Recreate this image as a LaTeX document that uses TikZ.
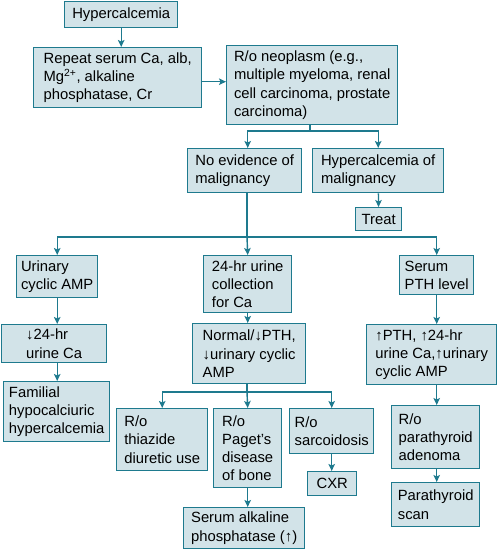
\documentclass[tikz,border=0pt]{standalone}
\usepackage{fontspec}
\setmainfont{Liberation Sans}
\usepackage{xcolor}
\usetikzlibrary{arrows.meta,positioning}
\definecolor{boxfill}{RGB}{210,227,232}
\definecolor{boxedge}{RGB}{30,122,142}

\begin{document}
\begin{tikzpicture}[x=1pt, y=-1pt,
  box/.style={draw=boxedge, fill=boxfill, line width=1.4pt, anchor=north west,
    align=left, inner xsep=3pt, inner ysep=1pt,
    font=\fontsize{14.8}{18.2}\selectfont},
  arr/.style={-{Stealth[length=7pt,width=6.5pt,inset=1.5pt]}, draw=boxedge, line width=1.4pt},
  con/.style={draw=boxedge, line width=1.4pt}]
\useasboundingbox (0,0) rectangle (500,549);

% top part
\node[box, minimum width=113pt, minimum height=26pt] (hyper) at (64,0.7) {Hypercalcemia};
\node[box, minimum width=168pt, minimum height=60pt] (repeat) at (33,47) {Repeat serum Ca, alb,\\Mg\textsuperscript{2+}, alkaline\\phosphatase, Cr};
\node[box, minimum width=171pt, minimum height=79pt] (neo) at (226,45) {R/o neoplasm (e.g.,\\multiple myeloma, renal\\cell carcinoma, prostate\\carcinoma)};
\node[box, minimum width=114pt, minimum height=44pt] (noev) at (187,148) {No evidence of\\malignancy};
\node[box, minimum width=131pt, minimum height=44pt] (hmal) at (312,148) {Hypercalcemia of\\malignancy};
\node[box, minimum width=46pt, minimum height=23pt] (treat) at (355,207) {Treat};

% three work-ups
\node[box, minimum width=81pt, minimum height=42pt] (urin) at (16,255) {Urinary\\cyclic AMP};
\node[box, minimum width=88pt, minimum height=57pt] (coll) at (203,255) {24-hr urine\\collection\\for Ca};
\node[box, minimum width=74pt, minimum height=39pt] (spth) at (399,255) {Serum\\PTH level};

% left column
\node[box, minimum width=105pt, minimum height=38pt] (ldown) at (1,324) {↓24-hr\\urine Ca};
\node[box, minimum width=106pt, minimum height=60pt] (fam) at (3,381) {Familial\\hypocalciuric\\hypercalcemia};

% middle column
\node[box, minimum width=113pt, minimum height=60pt] (norm) at (192,323) {Normal/↓PTH,\\↓urinary cyclic\\AMP};
\node[box, minimum width=91pt, minimum height=62pt] (thia) at (116,408) {R/o\\thiazide\\diuretic use};
\node[box, minimum width=68pt, minimum height=79pt] (paget) at (213,408) {R/o\\Paget’s\\disease\\of bone};
\node[box, minimum width=84pt, minimum height=45pt] (sarc) at (289,408) {R/o\\sarcoidosis};
\node[box, minimum width=49pt, minimum height=24pt] (cxr) at (307,471) {CXR};
\node[box, minimum width=121pt, minimum height=41pt] (salk) at (183,507) {Serum alkaline\\phosphatase (↑)};

% right column
\node[box, minimum width=130pt, minimum height=60pt] (uppth) at (366,324) {↑PTH, ↑24-hr\\urine Ca,↑urinary\\cyclic AMP};
\node[box, minimum width=88pt, minimum height=63pt] (radn) at (391,405) {R/o\\parathyroid\\adenoma};
\node[box, minimum width=88pt, minimum height=44pt] (pscan) at (391,482) {Parathyroid\\scan};

% connectors
\coordinate (j1) at (310,131);
\coordinate (j2) at (247,237);
\coordinate (j3) at (247,392);

\draw[arr] (hyper.south) -- (hyper |- repeat.north);
\draw[arr] (repeat.east) ++(0,4) coordinate (r1) -- (r1 -| neo.west);
\draw[con] (neo.south -| j1) -- (j1);
\draw[arr] (j1) -| (noev.north -| coll);
\draw[arr] (j1) -| (hmal.north);
\draw[arr] (hmal) -- (treat);

\draw[con] (noev.south -| j2) -- (j2);
\draw[arr] (j2) -| (urin.north);
\draw[arr] (j2) -- (coll.north);
\draw[arr] (j2) -| (spth.north);

\draw[arr] (urin) -- (urin |- ldown.north);
\draw[arr] (urin |- ldown.south) -- (urin |- fam.north);

\draw[arr] (coll) -- (coll |- norm.north);
\draw[con] (norm.south -| j3) -- (j3);
\draw[arr] (j3) -| (thia.north);
\draw[arr] (j3) -- (paget.north);
\draw[arr] (j3) -| (sarc.north);
\draw[arr] (paget) -- (paget |- salk.north);
\draw[arr] (sarc) -- (sarc |- cxr.north);

\draw[arr] (spth) -- (spth |- uppth.north);
\draw[arr] (spth |- uppth.south) -- (spth |- radn.north);
\draw[arr] (spth |- radn.south) -- (spth |- pscan.north);
\end{tikzpicture}
\end{document}
